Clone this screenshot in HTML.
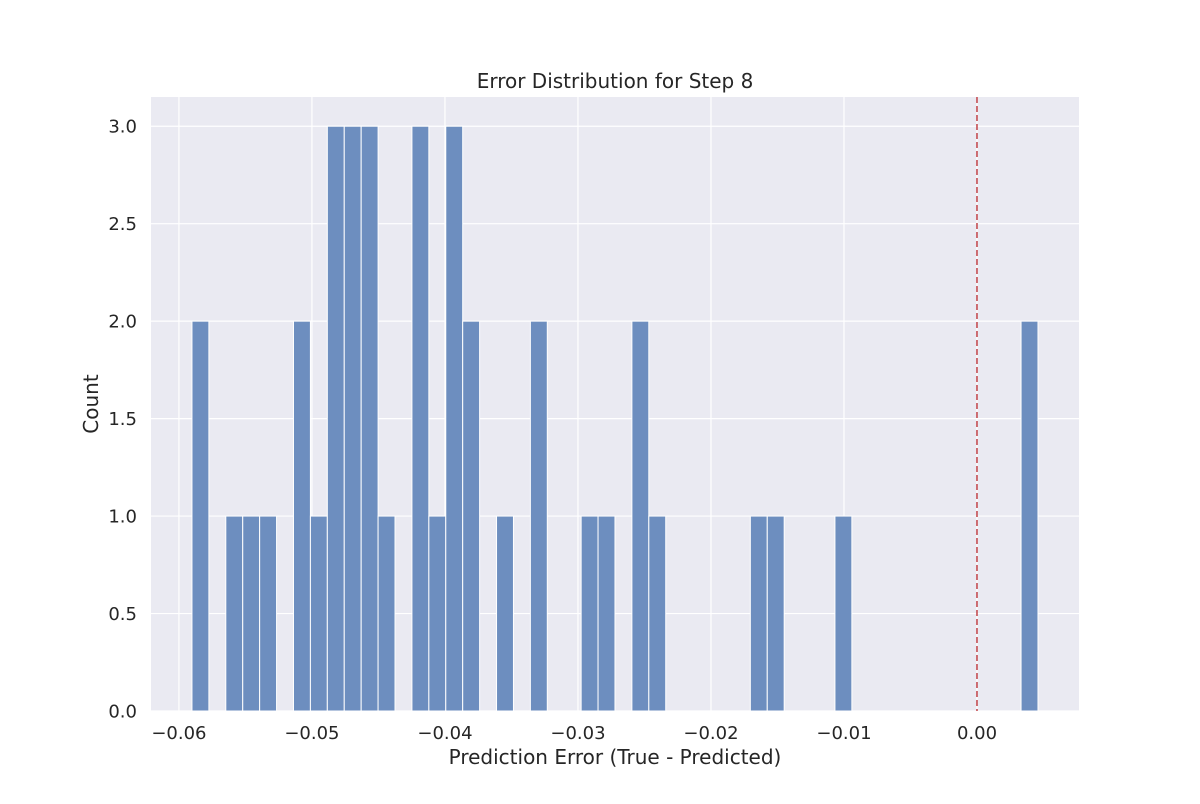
<!DOCTYPE html>
<html><head><meta charset="utf-8"><style>
body{margin:0;background:#fff;font-family:"DejaVu Sans","Liberation Sans",sans-serif}
svg text{font-family:"DejaVu Sans","Liberation Sans",sans-serif}
</style></head><body>
<svg id="c" width="1200" height="800" xmlns="http://www.w3.org/2000/svg"></svg>
<script>
const binMin=-0.05902, binMax=0.004586;
const counts=[2,0,1,1,1,0,2,1,3,3,3,1,0,3,1,3,2,0,1,0,2,0,0,1,1,0,2,1,0,0,0,0,0,1,1,0,0,0,1,0,0,0,0,0,0,0,0,0,0,2];
const xTicks=[-0.06,-0.05,-0.04,-0.03,-0.02,-0.01,0.00];
const xTickLabels=["\u22120.06","\u22120.05","\u22120.04","\u22120.03","\u22120.02","\u22120.01","0.00"];
const yTicks=[0,0.5,1,1.5,2,2.5,3];
const yTickLabels=["0.0","0.5","1.0","1.5","2.0","2.5","3.0"];
const refLine=0;
const L=151,R=1079,T=97,B=711;
const xMin=-0.0621,xMax=0.00767,yMax=3.15;
const X=v=>L+(v-xMin)/(xMax-xMin)*(R-L);
const Y=v=>B-v/yMax*(B-T);
const svg=document.getElementById('c');const NS='http://www.w3.org/2000/svg';
function el(t,a,txt){const e=document.createElementNS(NS,t);for(const k in a)e.setAttribute(k,a[k]);if(txt!=null)e.textContent=txt;svg.appendChild(e);return e;}
let e=el('rect',{x:L,y:T,width:R-L,height:B-T,fill:'#eaeaf2'});


xTicks.forEach((v,i)=>{
 e=el('line',{x1:X(v),x2:X(v),y1:T,y2:B,stroke:'#fff','stroke-width':1.2});
 
 
 e=el('text',{x:X(v),y:739,'text-anchor':'middle','font-size':18,fill:'#262626'},xTickLabels[i]);
 
 
});
yTicks.forEach((v,i)=>{
 e=el('line',{x1:L,x2:R,y1:Y(v),y2:Y(v),stroke:'#fff','stroke-width':1.2});
 
 
 e=el('text',{x:137,y:Y(v)+6.5,'text-anchor':'end','font-size':18,fill:'#262626'},yTickLabels[i]);
 
 
});
const bw=(binMax-binMin)/counts.length;
counts.forEach((c,i)=>{
 if(!c)return;
 const x0=X(binMin+i*bw),x1=X(binMin+(i+1)*bw);
 e=el('rect',{x:x0,y:Y(c),width:x1-x0,height:Y(0)-Y(c),fill:'#6d8ebf',stroke:'#fff','stroke-width':1});
 
 
});
e=el('line',{x1:X(refLine),x2:X(refLine),y1:T,y2:B,stroke:'#c44e52','stroke-width':1.6,'stroke-dasharray':'6,3'});


e=el('text',{x:615,y:88,'text-anchor':'middle','font-size':20,fill:'#262626'},'Error Distribution for Step 8');


e=el('text',{x:615,y:764,'text-anchor':'middle','font-size':20,fill:'#262626'},'Prediction Error (True - Predicted)');


e=el('text',{x:98,y:404,'text-anchor':'middle','font-size':20,fill:'#262626',transform:'rotate(-90 98 404)'},'Count');


</script></body></html>
